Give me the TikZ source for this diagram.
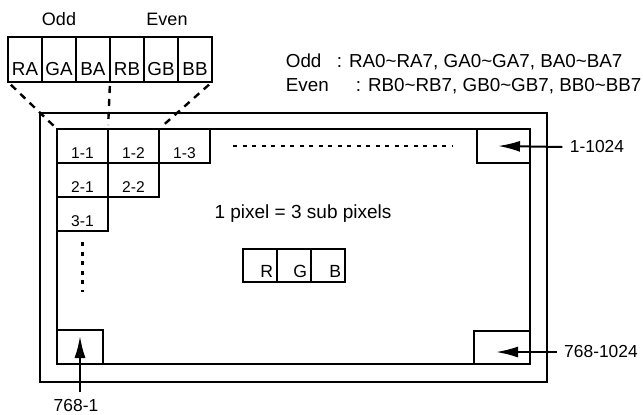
\documentclass[tikz,border=0pt]{standalone}
\usepackage{fontspec}
\setmainfont{Liberation Sans}
\usetikzlibrary{arrows.meta,positioning}
\newcommand{\txtsize}[1]{\fontsize{#1}{#1}\selectfont}

\begin{document}
\begin{tikzpicture}[x=0.5pt,y=-0.5pt,line width=0.9pt,font=\txtsize{9.4}]
\tikzset{sub/.style={draw,outer sep=0pt,inner sep=0pt,minimum width=17pt,text height=19pt,text depth=3.5pt},
pix/.style={draw,outer sep=0pt,inner sep=0pt,minimum width=25.5pt,text height=14.5pt,text depth=2.5pt,font=\txtsize{7.8}},
rgb/.style={draw,outer sep=0pt,inner xsep=2pt,inner ysep=0pt,text width=13pt,align=right,text height=14pt,text depth=2.5pt,font=\txtsize{8.8}},
corner/.style={draw,outer sep=0pt,inner sep=0pt},
frame/.style={line width=1pt},
arr/.style={-{Latex[length=11pt,width=5.5pt]},line width=1pt},
zoomline/.style={line width=1.2pt,dash pattern=on 3.5pt off 3pt,shorten <=2pt,shorten >=2pt},
dots/.style={line width=1.3pt,dash pattern=on 2pt off 2.75pt},
key/.style={anchor=base west,inner sep=0pt}}
\useasboundingbox (0,0) rectangle (643,414);
% panel frames
\draw[frame] (40,113) rectangle (547,382);
\draw[frame] (57,129) rectangle (530,364);
% sub pixel strip
\node[sub,anchor=north west] (ra) at (8,37) {RA};
\node[sub,right=0pt of ra] (ga) {GA};
\node[sub,right=0pt of ga] (ba) {BA};
\node[sub,right=0pt of ba] (rb) {RB};
\node[sub,right=0pt of rb] (gb) {GB};
\node[sub,right=0pt of gb] (bb) {BB};
\node[above=2pt of ga,font=\txtsize{9}] (odd) {Odd};
\node[above=2pt of gb,xshift=3pt,font=\txtsize{9}] (even) {Even};
% pixels
\node[pix,anchor=north west] (p11) at (57,129) {1-1};
\node[pix,right=0pt of p11] (p12) {1-2};
\node[pix,right=0pt of p12] (p13) {1-3};
\node[pix,below=0pt of p11] (p21) {2-1};
\node[pix,right=0pt of p21] (p22) {2-2};
\node[pix,below=0pt of p21] (p31) {3-1};
\draw[zoomline] (ra.south west) -- (p11.north west);
\draw[zoomline] (ba.south east) -- (p11.north east);
\draw[zoomline] (bb.south east) -- (p12.north east);
% corners
\node[corner,minimum width=26.5pt,minimum height=17pt,anchor=north east] (tr) at (530,129) {};
\node[corner,minimum width=23pt,minimum height=17pt,anchor=south west] (bl) at (57,364) {};
\node[corner,minimum width=28pt,minimum height=16.5pt,anchor=south east] (br) at (530,364) {};
\draw[dots] ([xshift=11.5pt]p13.east) -- ([xshift=-12.5pt]tr.west);
\draw[dots] ([yshift=-5.5pt]p31.south) -- ([yshift=-30.5pt]p31.south);
\node[font=\txtsize{8.7}] (l1024) at (597,147) {1-1024};
\node[font=\txtsize{8.7}] (l7681024) at (601,352) {768-1024};
\node[font=\txtsize{8.7}] (l7681) at (76,406) {768-1};
\draw[arr] (l1024.west) -- ([xshift=-2.75pt]tr.center);
\draw[arr,shorten >=-3pt] (l7681024.west) -- (l7681024.west -| br.center);
\draw[arr,shorten >=3pt] (bl.center |- l7681.north) -- (bl.north);
% key
\node[key] (oddkey) at (285,67) {Odd};
\node[key] (oddlist) at (336,67) {: RA0\textasciitilde RA7, GA0\textasciitilde GA7, BA0\textasciitilde BA7};
\node[key] (evenkey) at (285,91) {Even};
\node[key] (evenlist) at (355,91) {: RB0\textasciitilde RB7, GB0\textasciitilde GB7, BB0\textasciitilde BB7};
% sub pixel note
\node[font=\txtsize{9.5}] (note) at (303,214) {1 pixel = 3 sub pixels};
\node[rgb,anchor=north west] (r) at (243,249) {R};
\node[rgb,right=0pt of r] (g) {G};
\node[rgb,right=0pt of g] (b) {B};
\end{tikzpicture}
\end{document}
